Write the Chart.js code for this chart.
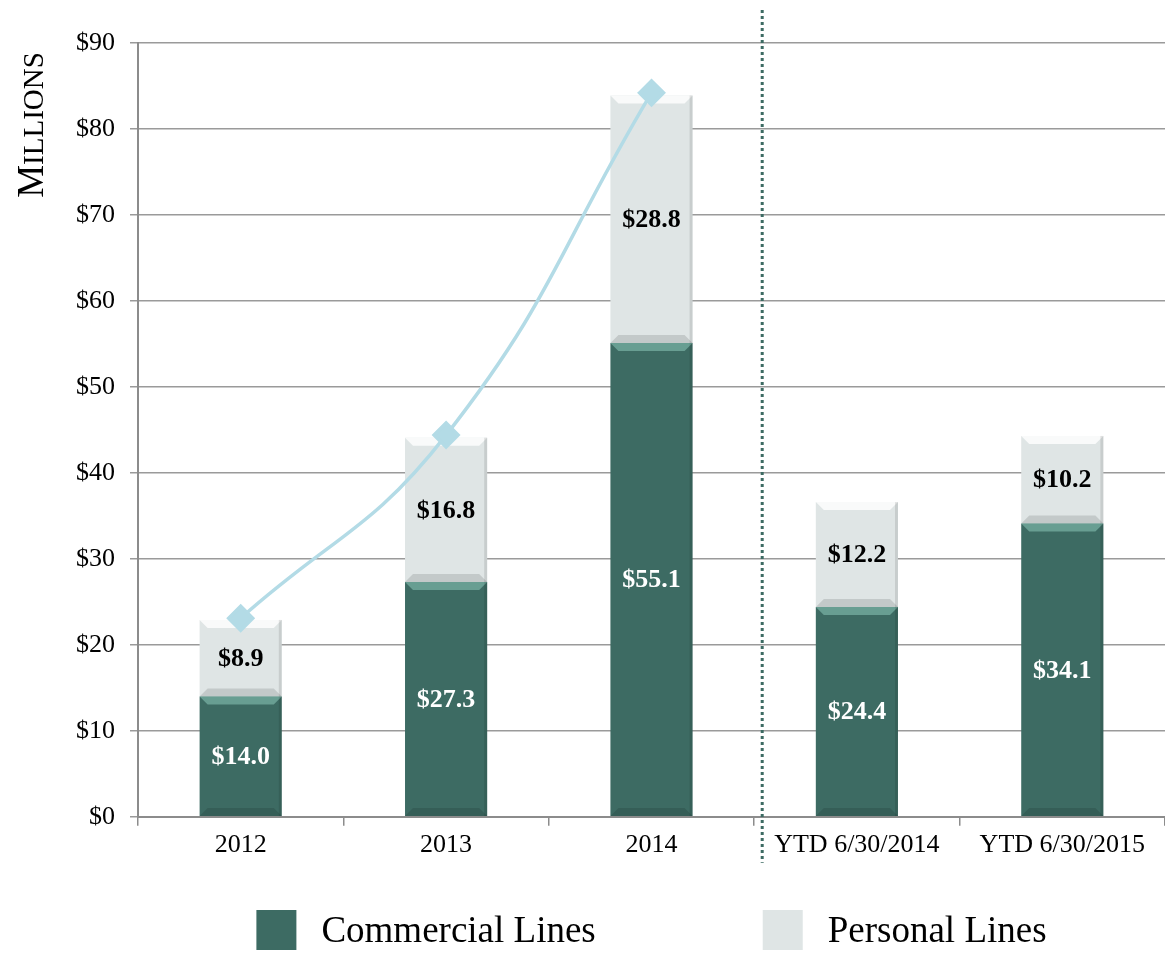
<!DOCTYPE html>
<html>
<head>
<meta charset="utf-8">
<script src="https://cdn.jsdelivr.net/npm/chart.js@4.4.1/dist/chart.umd.min.js"></script>
<style>
  html, body { margin: 0; padding: 0; background: #ffffff; }
  #wrap { width: 1165px; height: 953px; }
</style>
</head>
<body>
<div id="wrap"><canvas id="chartCanvas" width="1165" height="953"></canvas></div>
<script>
const categories = ["2012", "2013", "2014", "YTD 6/30/2014", "YTD 6/30/2015"];
const commercialLines = [14.0, 27.3, 55.1, 24.4, 34.1];
const personalLines = [8.9, 16.8, 28.8, 12.2, 10.2];
const totalTrend = [23.1, 44.4, 84.2, null, null];
const seriesNames = ["Commercial Lines", "Personal Lines"];
const yMax = 90;
const yStep = 10;

const darkGreen = "#3d6b63";
const lightGray = "#dfe5e5";
const trendBlue = "#b3dbe6";
const serif = "'Liberation Serif', 'Times New Roman', serif";

// value labels in the middle of each bar piece
const barLabels = {
  id: "barLabels",
  afterDatasetsDraw(chart) {
    const ctx = chart.ctx;
    ctx.save();
    ctx.font = "bold 26px " + serif;
    ctx.textAlign = "center";
    ctx.textBaseline = "middle";
    [0, 1].forEach((di) => {
      const meta = chart.getDatasetMeta(di);
      const values = chart.data.datasets[di].data;
      meta.data.forEach((bar, i) => {
        ctx.fillStyle = di === 0 ? "#ffffff" : "#000000";
        ctx.fillText("$" + values[i].toFixed(1), bar.x, (bar.y + bar.base) / 2 + 1);
      });
    });
    ctx.restore();
  },
};

// bevel look on the bars
const barBevel = {
  id: "barBevel",
  afterDatasetDraw(chart, args) {
    if (args.index > 1) return;
    const ctx = chart.ctx;
    const meta = args.meta;
    ctx.save();
    meta.data.forEach((bar) => {
      const l = bar.x - bar.width / 2;
      const r = bar.x + bar.width / 2;
      const t = bar.y;
      const b = bar.base;
      const d = 8;
      ctx.fillStyle = args.index === 0 ? "rgba(140,200,185,0.55)" : "rgba(255,255,255,0.8)";
      ctx.beginPath();
      ctx.moveTo(l, t); ctx.lineTo(r, t); ctx.lineTo(r - d, t + d); ctx.lineTo(l + d, t + d);
      ctx.closePath(); ctx.fill();
      ctx.fillStyle = "rgba(0,0,0,0.12)";
      ctx.beginPath();
      ctx.moveTo(l, b); ctx.lineTo(r, b); ctx.lineTo(r - d, b - d); ctx.lineTo(l + d, b - d);
      ctx.closePath(); ctx.fill();
      ctx.fillStyle = "rgba(0,0,0,0.10)";
      ctx.fillRect(r - 3, t, 3, b - t);
    });
    ctx.restore();
  },
};

// dotted divider between full years and YTD
const divider = {
  id: "divider",
  afterDraw(chart) {
    const x = chart.scales.x;
    const px = (x.getPixelForValue(2) + x.getPixelForValue(3)) / 2 + 8;
    const ctx = chart.ctx;
    ctx.save();
    ctx.strokeStyle = darkGreen;
    ctx.lineWidth = 3;
    ctx.setLineDash([3, 3]);
    ctx.beginPath();
    ctx.moveTo(px, 10);
    ctx.lineTo(px, chart.chartArea.bottom + 46);
    ctx.stroke();
    ctx.restore();
  },
};

// small-caps axis title
const axisTitle = {
  id: "axisTitle",
  afterDraw(chart) {
    const ctx = chart.ctx;
    ctx.save();
    ctx.translate(43, 125);
    ctx.rotate(-Math.PI / 2);
    ctx.fillStyle = "#000";
    ctx.textBaseline = "alphabetic";
    const big = "37px " + serif;
    const small = "29px " + serif;
    ctx.font = big;
    const w1 = ctx.measureText("M").width;
    ctx.font = small;
    const w2 = ctx.measureText("ILLIONS").width;
    const start = -(w1 + w2) / 2;
    ctx.font = big;
    ctx.textAlign = "left";
    ctx.fillText("M", start, 0);
    ctx.font = small;
    ctx.fillText("ILLIONS", start + w1, 0);
    ctx.restore();
  },
};

// legend below the chart, two wide-spaced items
const bottomLegend = {
  id: "bottomLegend",
  afterDraw(chart) {
    const ctx = chart.ctx;
    const colors = [darkGreen, lightGray];
    const box = 40, gap = 25, between = 167;
    ctx.save();
    ctx.font = "37px " + serif;
    const widths = seriesNames.map((n) => box + gap + ctx.measureText(n).width);
    const total = widths[0] + between + widths[1];
    let x = (chart.chartArea.left + chart.chartArea.right) / 2 - total / 2;
    const top = 910;
    seriesNames.forEach((name, i) => {
      ctx.fillStyle = colors[i];
      ctx.fillRect(x, top, box, box);
      ctx.fillStyle = "#000";
      ctx.textAlign = "left";
      ctx.textBaseline = "middle";
      ctx.fillText(name, x + box + gap, top + box / 2 + 2);
      x += widths[i] + between;
    });
    ctx.restore();
  },
};

new Chart(document.getElementById("chartCanvas"), {
  data: {
    labels: categories,
    datasets: [
      {
        type: "bar",
        label: seriesNames[0],
        data: commercialLines,
        backgroundColor: darkGreen,
        barPercentage: 0.8,
        categoryPercentage: 0.5,
        order: 2,
      },
      {
        type: "bar",
        label: seriesNames[1],
        data: personalLines,
        backgroundColor: lightGray,
        barPercentage: 0.8,
        categoryPercentage: 0.5,
        order: 2,
      },
      {
        type: "line",
        label: "Total",
        data: totalTrend,
        borderColor: trendBlue,
        borderWidth: 3.5,
        tension: 0.45,
        pointStyle: "rectRot",
        pointRadius: 12,
        pointBackgroundColor: trendBlue,
        pointBorderColor: trendBlue,
        spanGaps: false,
        order: 0,
      },
    ],
  },
  options: {
    responsive: false,
    animation: false,
    layout: { autoPadding: false, padding: { left: 61, top: 43, right: 0, bottom: 88 } },
    scales: {
      x: {
        stacked: true,
        grid: { display: true, drawOnChartArea: false, drawTicks: true, tickLength: 9, color: "#8c8c8c", lineWidth: 1.5 },
        border: { color: "#8c8c8c", width: 2 },
        ticks: { color: "#000", font: { family: serif, size: 26 }, padding: 4, maxRotation: 0 },
      },
      y: {
        stacked: true,
        min: 0,
        max: yMax,
        grid: { color: "#9a9a9a", lineWidth: 1.5, tickLength: 8 },
        border: { color: "#8c8c8c", width: 2 },
        ticks: {
          stepSize: yStep,
          color: "#000",
          font: { family: serif, size: 26 },
          padding: 15,
          callback: (v) => "$" + v,
        },
      },
    },
    plugins: {
      legend: { display: false },
      tooltip: { enabled: false },
    },
  },
  plugins: [barBevel, barLabels, divider, axisTitle, bottomLegend],
});
</script>
</body>
</html>
